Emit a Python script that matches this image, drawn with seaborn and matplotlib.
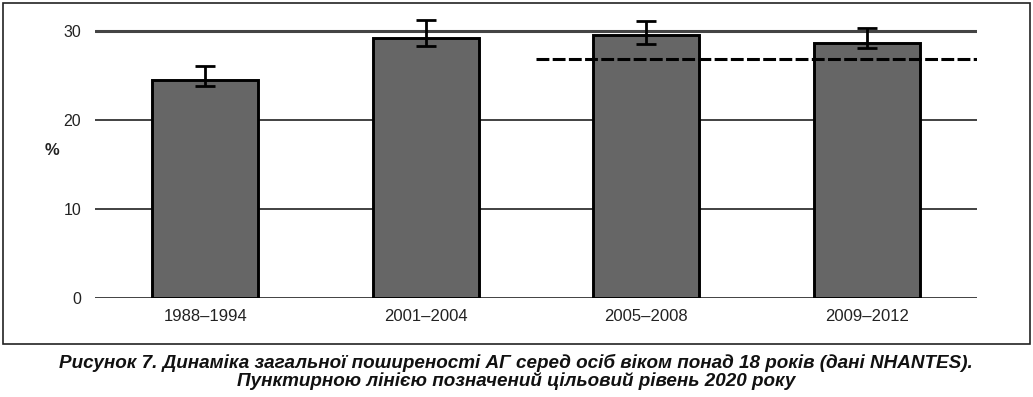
import matplotlib
matplotlib.use("Agg")
import matplotlib.pyplot as plt
import matplotlib.patches as mpatches
import seaborn as sns
import pandas as pd
import numpy as np

categories = ["1988–1994", "2001–2004", "2005–2008", "2009–2012"]
values = [24.5, 29.2, 29.6, 28.7]
err_low = [23.8, 28.3, 28.5, 28.1]
err_high = [26.1, 31.2, 31.1, 30.3]
target_2020 = 26.9
yticks = [0, 10, 20, 30]
caption = ("Рисунок 7. Динаміка загальної поширеності АГ серед осіб віком понад 18 років (дані NHANTES).\n"
           "Пунктирною лінією позначений цільовий рівень 2020 року")

sns.set_theme(style="white")
plt.rcParams['font.family'] = ['Liberation Sans', 'DejaVu Sans']

df = pd.DataFrame({"period": categories, "value": values})

fig = plt.figure(figsize=(10.33, 3.97), dpi=100)
ax = fig.add_axes([95/1033, 1-298/397, (977-95)/1033, (298-13.2)/397])

for y in yticks:
    if y == 30:
        ax.axhline(y, color="#444444", lw=2.2, zorder=0)
    else:
        ax.axhline(y, color="#333333", lw=1.3, zorder=0)

sns.barplot(data=df, x="period", y="value", color="#666666", width=0.48,
            edgecolor="black", linewidth=2.1, saturation=1, ax=ax, zorder=2)

x = np.arange(len(categories))
v = np.array(values)
yerr = np.vstack([v - np.array(err_low), np.array(err_high) - v])
ax.errorbar(x, v, yerr=yerr, fmt="none", ecolor="black", elinewidth=2.0,
            capsize=7.5, capthick=2.0, zorder=3, clip_on=False)

# target line from 2005–2008 onwards
ax.plot([x[2] - 0.5, x[3] + 0.5], [target_2020, target_2020],
        color="black", lw=2.2, ls=(0, (4.2, 1.1)), zorder=4)

ax.set_xlim(-0.5, len(categories) - 0.5)
ax.set_ylim(0, 32)
ax.set_yticks(yticks)
ax.set_yticklabels([str(t) for t in yticks], fontsize=11.5, color="#222222")
ax.tick_params(axis="y", length=0, pad=10)
ax.tick_params(axis="x", length=0, pad=8, labelsize=12, labelcolor="#222222")
ax.set_xlabel("")
ax.set_ylabel("")
for s in ax.spines.values():
    s.set_visible(False)

fig.text(52/1033, 1-150/397, "%", fontsize=12, fontweight="bold",
         ha="center", va="center", color="#222222")

fig.patches.append(mpatches.Rectangle((3/1033, 1-344/397), 1027/1033, 341/397,
                                      transform=fig.transFigure, fill=False,
                                      edgecolor="#222222", lw=1.2))

fig.text(516/1033, 1-372/397, caption, fontsize=13.6, fontweight="bold",
         fontstyle="italic", ha="center", va="center", linespacing=1.05,
         color="#111111")

fig.savefig("out.png", dpi=100)
